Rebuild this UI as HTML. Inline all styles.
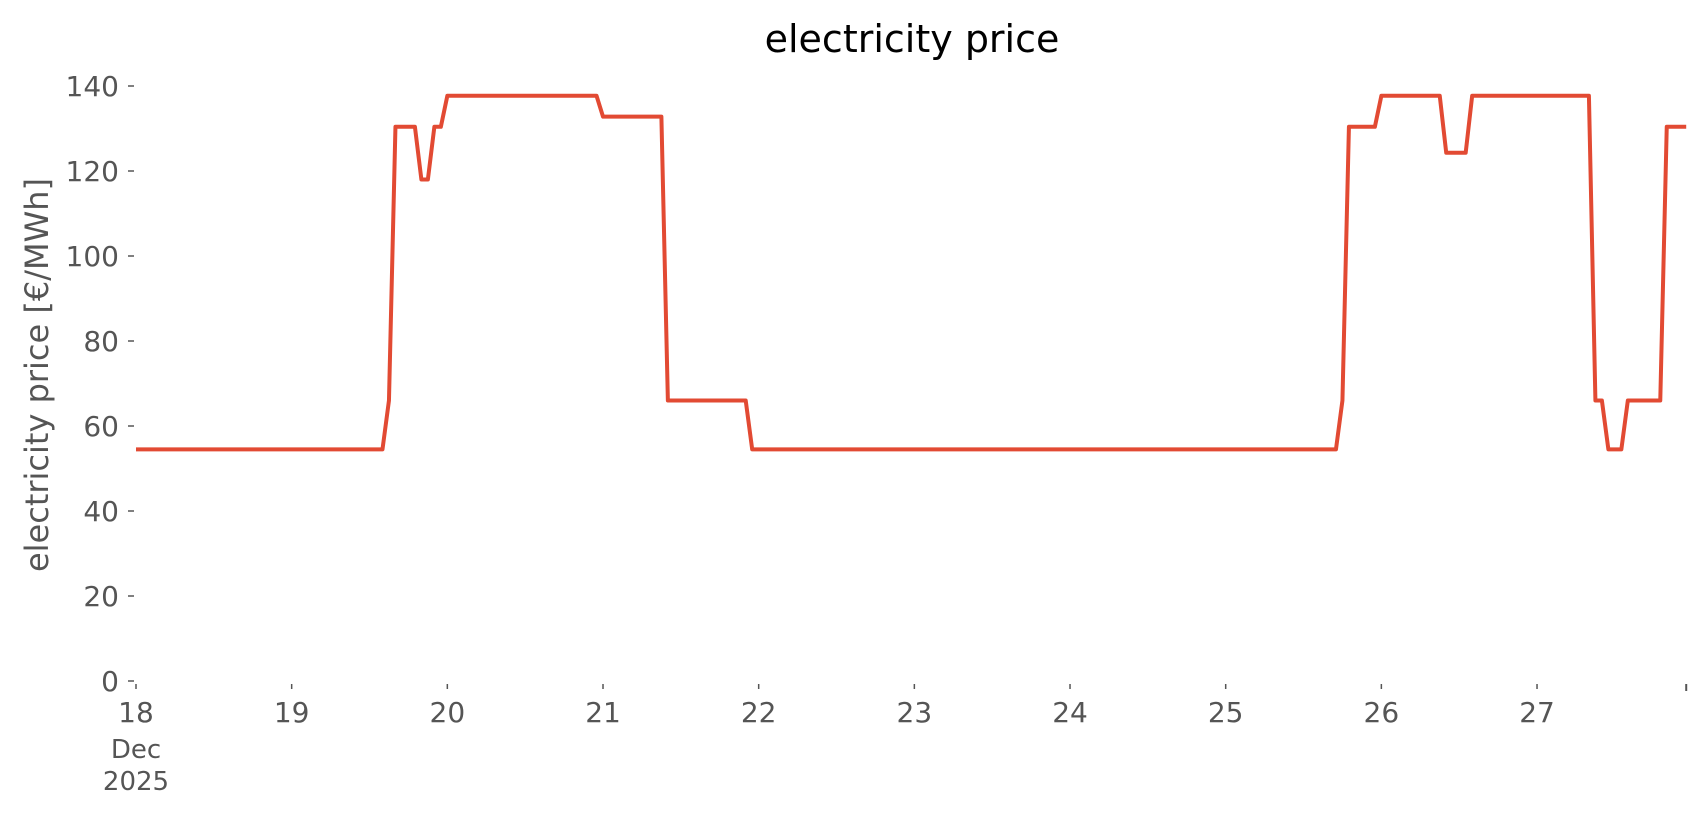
<!DOCTYPE html>
<html><head><meta charset="utf-8"><style>
html,body{margin:0;padding:0;background:#fff;}
svg{display:block;}
text{font-family:"DejaVu Sans","Liberation Sans",sans-serif;fill:#555;}
</style></head><body>
<svg id="chart" width="1706" height="815" viewBox="0 0 1706 815">
<text x="912" y="52" text-anchor="middle" font-size="38" style="fill:#000">electricity price</text>
<text transform="translate(48,375) rotate(-90)" text-anchor="middle" font-size="32">electricity price [€/MWh]</text>
<g id="yaxis"></g>
<g id="xaxis"></g>
<g id="plot"></g>
</svg>
<script>
const yTicks = [0, 20, 40, 60, 80, 100, 120, 140];
const xTickDays = [0, 1, 2, 3, 4, 5, 6, 7, 8, 9];
const xTickLabels = ["18", "19", "20", "21", "22", "23", "24", "25", "26", "27"];
const prices = [
54.5,54.5,54.5,54.5,54.5,54.5,54.5,54.5,54.5,54.5,54.5,54.5,54.5,54.5,54.5,54.5,54.5,54.5,54.5,54.5,54.5,54.5,54.5,54.5,
54.5,54.5,54.5,54.5,54.5,54.5,54.5,54.5,54.5,54.5,54.5,54.5,54.5,54.5,54.5,66,130.4,130.4,130.4,130.4,118,118,130.4,130.4,
137.7,137.7,137.7,137.7,137.7,137.7,137.7,137.7,137.7,137.7,137.7,137.7,137.7,137.7,137.7,137.7,137.7,137.7,137.7,137.7,137.7,137.7,137.7,137.7,
132.8,132.8,132.8,132.8,132.8,132.8,132.8,132.8,132.8,132.8,66,66,66,66,66,66,66,66,66,66,66,66,66,54.5,
54.5,54.5,54.5,54.5,54.5,54.5,54.5,54.5,54.5,54.5,54.5,54.5,54.5,54.5,54.5,54.5,54.5,54.5,54.5,54.5,54.5,54.5,54.5,54.5,
54.5,54.5,54.5,54.5,54.5,54.5,54.5,54.5,54.5,54.5,54.5,54.5,54.5,54.5,54.5,54.5,54.5,54.5,54.5,54.5,54.5,54.5,54.5,54.5,
54.5,54.5,54.5,54.5,54.5,54.5,54.5,54.5,54.5,54.5,54.5,54.5,54.5,54.5,54.5,54.5,54.5,54.5,54.5,54.5,54.5,54.5,54.5,54.5,
54.5,54.5,54.5,54.5,54.5,54.5,54.5,54.5,54.5,54.5,54.5,54.5,54.5,54.5,54.5,54.5,54.5,54.5,66,130.4,130.4,130.4,130.4,130.4,
137.7,137.7,137.7,137.7,137.7,137.7,137.7,137.7,137.7,137.7,124.3,124.3,124.3,124.3,137.7,137.7,137.7,137.7,137.7,137.7,137.7,137.7,137.7,137.7,
137.7,137.7,137.7,137.7,137.7,137.7,137.7,137.7,137.7,66,66,54.5,54.5,54.5,66,66,66,66,66,66,130.4,130.4,130.4,130.4
];
const NS = "http://www.w3.org/2000/svg";
const X0 = 136, DAY = 155.67, Y0 = 681, PX = 4.25;
function xScale(h){ return X0 + h * DAY / 24; }
function yScale(v){ return Y0 - v * PX; }
const yaxis = document.getElementById('yaxis');
yTicks.forEach(v => {
  const y = yScale(v);
  const l = document.createElementNS(NS,'line');
  l.setAttribute('x1',128); l.setAttribute('x2',134); l.setAttribute('y1',y); l.setAttribute('y2',y);
  l.setAttribute('stroke','#555'); l.setAttribute('stroke-width','1.5');
  
  
  yaxis.appendChild(l);
  const t = document.createElementNS(NS,'text');
  t.setAttribute('x',119); t.setAttribute('y',y+10); t.setAttribute('text-anchor','end'); t.setAttribute('font-size','28');
  t.textContent = v;
  
  
  yaxis.appendChild(t);
});
const xaxis = document.getElementById('xaxis');
xTickDays.forEach((d,i) => {
  const x = xScale(d*24);
  const l = document.createElementNS(NS,'line');
  l.setAttribute('x1',x); l.setAttribute('x2',x); l.setAttribute('y1',684); l.setAttribute('y2',689);
  l.setAttribute('stroke','#555'); l.setAttribute('stroke-width','1.5');
  
  
  xaxis.appendChild(l);
  const t = document.createElementNS(NS,'text');
  t.setAttribute('x',x); t.setAttribute('y',722); t.setAttribute('text-anchor','middle'); t.setAttribute('font-size','28');
  t.textContent = xTickLabels[i];
  
  
  xaxis.appendChild(t);
});
const endTick = document.createElementNS(NS,'line');
const ex = xScale(prices.length - 1);
endTick.setAttribute('x1',ex); endTick.setAttribute('x2',ex); endTick.setAttribute('y1',684); endTick.setAttribute('y2',691);
endTick.setAttribute('stroke','#555'); endTick.setAttribute('stroke-width','2');


xaxis.appendChild(endTick);
[["Dec",758],["2025",790]].forEach(([s,y]) => {
  const t = document.createElementNS(NS,'text');
  t.setAttribute('x',xScale(0)); t.setAttribute('y',y); t.setAttribute('text-anchor','middle'); t.setAttribute('font-size','26');
  t.textContent = s;
  
  
  xaxis.appendChild(t);
});
const plot = document.getElementById('plot');
const path = document.createElementNS(NS,'path');
path.setAttribute('d', prices.map((v,i)=>(i?'L':'M')+xScale(i).toFixed(2)+' '+yScale(v).toFixed(2)).join(' '));
path.setAttribute('fill','none'); path.setAttribute('stroke','#E24A33'); path.setAttribute('stroke-width','4');
path.setAttribute('stroke-linejoin','round');


plot.appendChild(path);
</script>
</body></html>
